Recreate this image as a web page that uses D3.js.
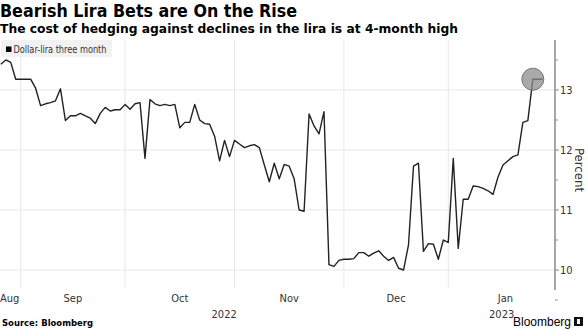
<!DOCTYPE html>
<html><head><meta charset="utf-8">
<script src="https://cdn.jsdelivr.net/npm/d3@7/dist/d3.min.js"></script>
<style>
html,body{margin:0;padding:0;background:#fff;}
svg{display:block;}
</style></head>
<body>
<svg id="c" width="588" height="330"></svg>
<script>
// ---- data ----
const title = "Bearish Lira Bets are On the Rise";
const subtitle = "The cost of hedging against declines in the lira is at 4-month high";
const seriesName = "Dollar-lira three month";
const startDate = "2022-08-26"; // first business day in series
const values = [
  13.43,13.50,13.46,13.18,13.18,13.18,13.18,13.03,12.74,12.77,
  12.79,12.82,13.02,12.49,12.57,12.57,12.61,12.57,12.53,12.44,
  12.61,12.71,12.65,12.67,12.67,12.76,12.68,12.77,12.79,11.86,
  12.84,12.77,12.74,12.76,12.74,12.76,12.37,12.46,12.46,12.76,
  12.50,12.44,12.43,12.23,11.82,12.16,11.89,12.16,12.10,12.04,
  12.07,12.09,12.04,11.75,11.47,11.78,11.52,11.76,11.73,11.52,
  11.00,10.98,12.60,12.40,12.27,12.64,10.09,10.06,10.16,10.18,
  10.18,10.19,10.29,10.29,10.23,10.28,10.32,10.23,10.16,10.21,
  10.03,10.00,10.42,11.73,11.78,10.31,10.44,10.43,10.18,10.50,
  10.46,11.86,10.36,11.18,11.18,11.40,11.39,11.36,11.32,11.26,
  11.55,11.75,11.82,11.89,11.92,12.46,12.49,13.18,13.18,13.18
];
const highlightIndex = 107;
const yTicks = [10, 11, 12, 13];
const yMinorTicks = [9.5, 10.5, 11.5, 12.5, 13.5];
const monthLabels = ["Aug", "Sep", "Oct", "Nov", "Dec", "Jan"];
const yearLabels = ["2022", "2023"];
const yLabel = "Percent";
const source = "Source: Bloomberg";

// ---- business-day dates ----
const parse = d3.timeParse("%Y-%m-%d");
const dates = [];
{
  let d = parse(startDate);
  while (dates.length < values.length) {
    const wd = d.getDay();
    if (wd !== 0 && wd !== 6) dates.push(new Date(d));
    d = d3.timeDay.offset(d, 1);
  }
}
// business-day index of a calendar date (relative to start)
function bdIndex(date) {
  const s = parse(startDate);
  if (date >= s) return d3.timeDay.count(s, date) - (d3.timeSaturday.count(s, date) + d3.timeSunday.count(s, date));
  return -(d3.timeDay.count(date, s) - (d3.timeSaturday.count(date, s) + d3.timeSunday.count(date, s)));
}

const svg = d3.select("#c");
const plotL = 0, plotR = 555, plotT = 40, plotB = 290;

const x = d3.scaleLinear().domain([-0.16, 111.46]).range([plotL, plotR]);
const y = d3.scaleLinear().domain([9.667, 13.833]).range([plotB, plotT]);

const FONT = "'DejaVu Sans Condensed','DejaVu Sans',sans-serif";

// titles
svg.append("text").attr("x", 0).attr("y", 17).text(title)
  .attr("font-family", "'DejaVu Sans',sans-serif").attr("font-weight", "bold")
  .attr("font-size", 18).attr("fill", "#000")
  .attr("textLength", 297).attr("lengthAdjust", "spacingAndGlyphs");
svg.append("text").attr("x", 0).attr("y", 33).text(subtitle)
  .attr("font-family", "'DejaVu Sans',sans-serif").attr("font-weight", "bold")
  .attr("font-size", 13).attr("fill", "#000")
  .attr("textLength", 458).attr("lengthAdjust", "spacingAndGlyphs");

// month boundaries
const monthStarts = [];
for (let m = 0; m <= monthLabels.length; m++) {
  monthStarts.push(d3.timeMonth.offset(new Date(2022, 7, 1), m));
}
const bounds = monthStarts.map(d => x(bdIndex(d)));

// gridlines
const g = svg.append("g");
g.selectAll("line.h").data(yTicks).join("line")
  .attr("x1", plotL).attr("x2", plotR)
  .attr("y1", d => y(d)).attr("y2", d => y(d))
  .attr("stroke", "#e8e8e8").attr("stroke-width", 1);
g.selectAll("line.v").data(bounds.filter(b => b > plotL && b < plotR)).join("line")
  .attr("x1", d => d).attr("x2", d => d)
  .attr("y1", plotT).attr("y2", plotB - 2)
  .attr("stroke", "#e8e8e8").attr("stroke-width", 1);

// legend
const lg = svg.append("g");
lg.append("rect").attr("x", 1).attr("y", 40).attr("width", 111).attr("height", 17).attr("fill", "#f2f2f2");
lg.append("rect").attr("x", 6).attr("y", 46.5).attr("width", 5.5).attr("height", 5.5).attr("fill", "#000");
lg.append("text").attr("x", 13.5).attr("y", 53).text(seriesName)
  .attr("font-family", FONT).attr("font-size", 10).attr("fill", "#333")
  .attr("textLength", 93).attr("lengthAdjust", "spacingAndGlyphs");

// line
const line = d3.line().x((d, i) => x(i)).y(d => y(d));
svg.append("path").datum(values).attr("d", line)
  .attr("fill", "none").attr("stroke", "#222").attr("stroke-width", 1.4)
  .attr("stroke-linejoin", "round");

// highlight
svg.append("circle").attr("cx", x(highlightIndex)).attr("cy", y(values[highlightIndex])).attr("r", 11)
  .attr("fill", "#8c8c8c").attr("fill-opacity", 0.75).attr("stroke", "#777").attr("stroke-width", 1);

// y axis
const ya = svg.append("g");
ya.append("line").attr("x1", plotR).attr("x2", plotR).attr("y1", plotT).attr("y2", plotB)
  .attr("stroke", "#888").attr("stroke-width", 1.5);
ya.selectAll("line.t").data(yTicks).join("line")
  .attr("x1", plotR).attr("x2", plotR + 4).attr("y1", d => y(d)).attr("y2", d => y(d))
  .attr("stroke", "#888");
ya.selectAll("line.m").data(yMinorTicks).join("line")
  .attr("x1", plotR).attr("x2", plotR + 3).attr("y1", d => y(d)).attr("y2", d => y(d))
  .attr("stroke", "#999");
ya.selectAll("text").data(yTicks).join("text")
  .attr("x", plotR + 5).attr("y", d => y(d) + 4).text(d => d)
  .attr("font-family", FONT).attr("font-size", 11).attr("fill", "#333");
svg.append("text").attr("transform", `translate(${plotR + 20},${170}) rotate(90)`)
  .attr("text-anchor", "middle").text(yLabel)
  .attr("font-family", FONT).attr("font-size", 13).attr("fill", "#333");

// x labels
const xa = svg.append("g");
monthLabels.forEach((m, i) => {
  let cx = (bounds[i] + bounds[i + 1]) / 2;
  const t = xa.append("text").attr("y", 302).text(m)
    .attr("font-family", FONT).attr("font-size", 11).attr("fill", "#333");
  if (cx < 10) { t.attr("x", 0).attr("text-anchor", "start"); }
  else { t.attr("x", cx).attr("text-anchor", "middle"); }
});
const janB = bounds[5];
const yearCenters = [(plotL + janB) / 2, (janB + plotR) / 2];
yearLabels.forEach((yl, i) => {
  xa.append("text").attr("x", yearCenters[i]).attr("y", 318).attr("text-anchor", "middle").text(yl)
    .attr("font-family", FONT).attr("font-size", 11).attr("fill", "#333");
});

// footer
svg.append("text").attr("x", 2).attr("y", 326).text(source)
  .attr("font-family", "'DejaVu Sans',sans-serif").attr("font-weight", "bold").attr("font-size", 9)
  .attr("fill", "#000").attr("textLength", 91).attr("lengthAdjust", "spacingAndGlyphs");
svg.append("text").attr("x", 571).attr("y", 326).attr("text-anchor", "end").text("Bloomberg")
  .attr("font-family", "'Liberation Sans',Arial,sans-serif").attr("font-size", 12).attr("fill", "#000");
const logo = svg.append("g").attr("transform", "translate(574,317)");
logo.append("rect").attr("width", 9).attr("height", 9).attr("fill", "#111");
logo.append("rect").attr("x", 3).attr("y", 2).attr("width", 3).attr("height", 5).attr("fill", "#fff");
</script>
</body></html>
